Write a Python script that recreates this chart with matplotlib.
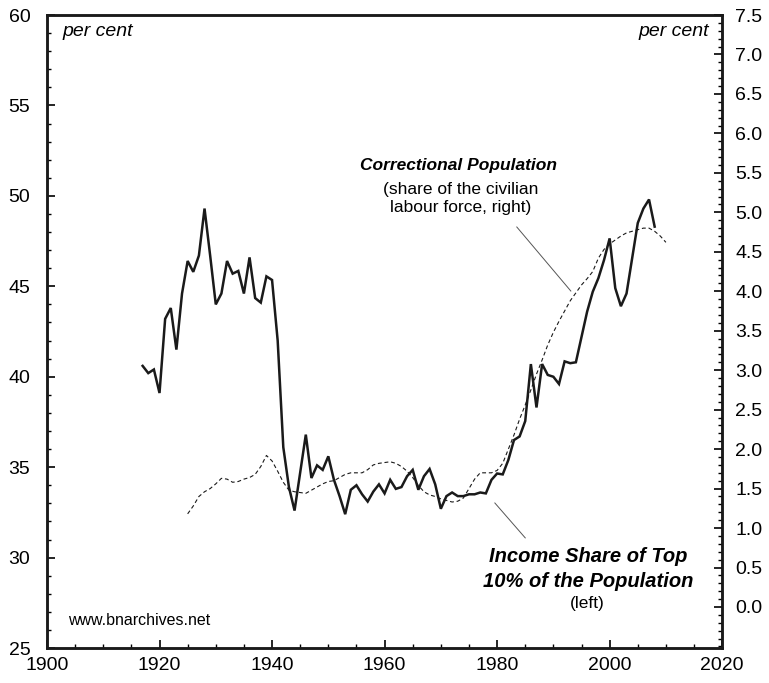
import matplotlib
matplotlib.use('Agg')
import matplotlib.pyplot as plt
from matplotlib.ticker import MultipleLocator
import numpy as np

# income share of top 10% (left axis), 1917-2008
income_years = list(range(1917, 2009))
income_share = [40.6, 40.2, 40.4, 39.1, 43.2, 43.8, 41.5, 44.6, 46.4, 45.8,
                46.7, 49.3, 46.7, 44.0, 44.6, 46.4, 45.7, 45.85, 44.6, 46.6,
                44.35, 44.1, 45.55, 45.35, 42.0, 36.1, 33.9, 32.6, 34.7, 36.8,
                34.4, 35.1, 34.85, 35.6, 34.3, 33.4, 32.4, 33.75, 34.0, 33.5,
                33.1, 33.65, 34.05, 33.55, 34.3, 33.8, 33.9, 34.5, 34.85, 33.75,
                34.5, 34.9, 34.05, 32.7, 33.4, 33.6, 33.4, 33.4, 33.5, 33.5,
                33.6, 33.55, 34.3, 34.65, 34.6, 35.4, 36.5, 36.7, 37.55, 40.7,
                38.3, 40.7, 40.1, 40.0, 39.6, 40.85, 40.75, 40.8, 42.2, 43.6,
                44.7, 45.45, 46.45, 47.65, 44.9, 43.9, 44.6, 46.55, 48.5, 49.3,
                49.8, 48.3]

# correctional population, % of civilian labour force (right axis), 1925-2010
corr_years = list(range(1925, 2011))
corr_share = [1.18, 1.28, 1.40, 1.46, 1.50, 1.56, 1.63, 1.62, 1.58, 1.59,
              1.62, 1.64, 1.68, 1.78, 1.92, 1.85, 1.72, 1.58, 1.48, 1.46,
              1.45, 1.44, 1.48, 1.52, 1.56, 1.59, 1.60, 1.64, 1.68, 1.70,
              1.70, 1.70, 1.74, 1.80, 1.82, 1.83, 1.84, 1.82, 1.78, 1.72,
              1.64, 1.54, 1.46, 1.42, 1.40, 1.37, 1.35, 1.33, 1.34, 1.38,
              1.50, 1.62, 1.70, 1.70, 1.70, 1.73, 1.82, 2.00, 2.18, 2.38,
              2.56, 2.75, 2.95, 3.13, 3.32, 3.48, 3.62, 3.75, 3.88, 3.98,
              4.08, 4.16, 4.25, 4.42, 4.53, 4.60, 4.65, 4.70, 4.74, 4.76,
              4.78, 4.80, 4.80, 4.76, 4.70, 4.62]

plt.rcParams['font.family'] = ['Liberation Sans', 'DejaVu Sans']

fig = plt.figure(figsize=(7.69, 6.83), dpi=100)
ax = fig.add_axes([0.0611, 0.0512, 0.878, 0.9268])
ax2 = ax.twinx()

ax.plot(income_years, income_share, color='#1a1a1a', linewidth=1.8,
        solid_joinstyle='miter', zorder=3)
ax2.plot(corr_years, corr_share, color='#1a1a1a', linewidth=0.8,
         dashes=(3.5, 2.5))

ax.set_xlim(1900, 2020)
ax.set_ylim(25, 60)
ax2.set_ylim(-0.52, 7.5)

ax.xaxis.set_major_locator(MultipleLocator(20))
ax.xaxis.set_minor_locator(MultipleLocator(5))
ax.yaxis.set_major_locator(MultipleLocator(5))
ax.yaxis.set_minor_locator(MultipleLocator(1))
ax2.yaxis.set_minor_locator(MultipleLocator(0.1))
ax2.set_yticks([v for v in np.arange(0, 7.51, 0.5)])
ax2.yaxis.set_major_formatter(matplotlib.ticker.FormatStrFormatter('%.1f'))

for a in (ax, ax2):
    for s in a.spines.values():
        s.set_linewidth(1.8)
        s.set_color('#1a1a1a')

ax.tick_params(axis='x', which='major', direction='in', length=6, width=1.2,
               labelsize=14, pad=6.5, top=False)
ax.tick_params(axis='x', which='minor', direction='in', length=3, width=1.0)
ax.tick_params(axis='y', which='major', direction='in', length=6, width=1.2,
               labelsize=14, pad=12)
ax.tick_params(axis='y', which='minor', direction='in', length=3, width=1.0)
ax2.tick_params(axis='y', which='major', direction='in', length=6, width=1.2,
                labelsize=14, pad=9.5)
ax2.tick_params(axis='y', which='minor', direction='in', length=3, width=1.0)

# labels
ax.text(1902.8, 59.1, 'per cent', fontsize=14, style='italic',
        ha='left', va='center')
ax.text(2017.7, 59.1, 'per cent', fontsize=14, style='italic',
        ha='right', va='center')
ax.text(1903.7, 26.5, 'www.bnarchives.net', fontsize=11.5, ha='left',
        va='center')

ax.text(1973.1, 51.7, 'Correctional Population', fontsize=12.5,
        weight='bold', style='italic', ha='center', va='center')
ax.text(1973.5, 49.85, '(share of the civilian\nlabour force, right)',
        fontsize=12.5, ha='center', va='center', linespacing=1.3)
ax.plot([1983.5, 1993.1], [48.28, 44.74], color='#555555', linewidth=0.7)

ax.text(1996.1, 29.35, 'Income Share of Top\n10% of the Population',
        fontsize=14.5, weight='bold', style='italic', ha='center',
        va='center', linespacing=1.4)
ax.text(1996.1, 27.44, '(left)', fontsize=12.5, ha='center', va='center')
ax.plot([1979.6, 1985.0], [33.02, 31.09], color='#555555', linewidth=0.7)

plt.savefig('out.png', dpi=100)
